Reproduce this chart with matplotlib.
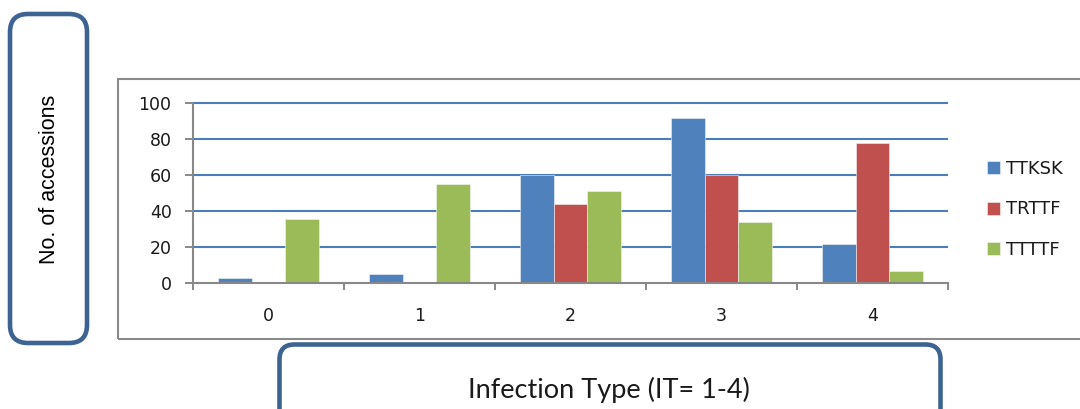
import numpy as np
import matplotlib
matplotlib.use("Agg")
import matplotlib.pyplot as plt
from matplotlib.patches import FancyBboxPatch, Rectangle

# ---- data ----
categories = ['0', '1', '2', '3', '4']
series_names = ['TTKSK', 'TRTTF', 'TTTTF']
ttksk = [3, 5, 60, 92, 22]
trttf = [1, 0, 44, 60, 78]
ttttf = [36, 55, 51, 34, 7]
yticks = [0, 20, 40, 60, 80, 100]

colors = ['#4F81BD', '#C0504D', '#9BBB59']
grid_col = '#4A7EBB'
axis_col = '#888888'
box_col = '#3C6391'

W, H = 1080, 409
fig = plt.figure(figsize=(W / 100, H / 100), dpi=100)
fig.patch.set_facecolor('white')

# plot area (pixel geometry -> figure fraction)
left_px, right_px, top_px, bot_px = 193, 948, 103.3, 283.3
ax = fig.add_axes([left_px / W, 1 - bot_px / H, (right_px - left_px) / W, (bot_px - top_px) / H])

x = np.arange(len(categories))
w = 1 / 4.5
for i, (vals, name) in enumerate(zip([ttksk, trttf, ttttf], series_names)):
    ax.bar(x + (i - 1) * w, vals, width=w, color=colors[i], label=name,
           edgecolor='#f4f4f4', linewidth=0.4, zorder=2)

ax.set_xlim(-0.5, len(categories) - 0.5)
ax.set_ylim(0, 100)

# gridlines
ax.hlines(yticks[1:], -0.5, len(categories) - 0.5, colors=grid_col, linewidth=1.5,
          zorder=1, clip_on=False)

for s in ['top', 'right']:
    ax.spines[s].set_visible(False)
for s in ['left', 'bottom']:
    ax.spines[s].set_color(axis_col)
    ax.spines[s].set_linewidth(1.5)
    ax.spines[s].set_zorder(3)

num_font = 'DejaVu Sans'
ax.set_yticks(yticks)
ax.set_yticklabels([str(v) for v in yticks], fontsize=12.5, family=num_font, color='#1a1a1a')
ax.tick_params(axis='y', direction='out', length=5.8, width=1.4, color=axis_col, pad=9.6)

ax.set_xticks(x)
ax.set_xticklabels(categories, fontsize=12.5, family=num_font, color='#1a1a1a')
ax.tick_params(axis='x', which='major', length=0, pad=17)
ax.set_xticks(np.arange(-0.5, len(categories), 1), minor=True)
ax.tick_params(axis='x', which='minor', direction='out', length=5, width=1.4, color=axis_col)

# legend
leg = ax.legend(loc='center left', bbox_to_anchor=(987 / W, 1 - 209.5 / H),
                bbox_transform=fig.transFigure, frameon=False, borderpad=0,
                borderaxespad=0, handlelength=0.72, handleheight=0.72,
                handletextpad=0.33, labelspacing=1.25,
                prop={'family': num_font, 'size': 13})
for t in leg.get_texts():
    t.set_color('#1a1a1a')

# chart border (cut off on the right)
fig.add_artist(Rectangle((1.18, 0.70), 10.5, 2.60, transform=fig.dpi_scale_trans,
                         fill=False, edgecolor='#8a8a8a', linewidth=1.5))

# left rounded box with y label
fig.add_artist(FancyBboxPatch((0.10, 0.66), 0.77, 3.29,
                              boxstyle="round,pad=0,rounding_size=0.18",
                              transform=fig.dpi_scale_trans, fill=False,
                              edgecolor=box_col, linewidth=3.3))
fig.text(50 / W, 1 - 179 / H, 'No. of accessions', rotation=90, ha='center', va='center',
         family='Liberation Sans', fontsize=15.5, color='black')

# bottom rounded box with x label
fig.add_artist(FancyBboxPatch((2.795, -0.5), 6.61, 1.145,
                              boxstyle="round,pad=0,rounding_size=0.15",
                              transform=fig.dpi_scale_trans, fill=False,
                              edgecolor=box_col, linewidth=3.3))
fig.text(609 / W, 1 - 398 / H, 'Infection Type (IT= 1-4)', ha='center', va='baseline',
         family='Lato', fontsize=19.5, color='#1a1a1a')

fig.savefig('out.png', dpi=100)
